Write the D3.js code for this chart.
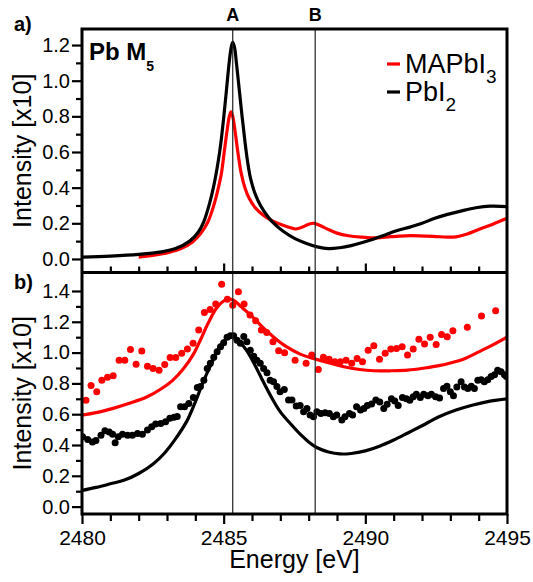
<!DOCTYPE html>
<html>
<head>
<meta charset="utf-8">
<script src="https://d3js.org/d3.v7.min.js"></script>
<style>
	body { margin: 0; background: #fff; }
	text { font-family: "Liberation Sans", Arial, Helvetica, sans-serif; }
</style>
</head>
<body>
<svg id="chart" width="533" height="582"></svg>
<script>
// x axis
var energyRange = [2480, 2495];
var energyMajor = [2480, 2485, 2490, 2495];
var energyMinor = [2481, 2482, 2483, 2484, 2486, 2487, 2488, 2489, 2491, 2492, 2493, 2494];

// y axes
var ticksA = [0.0, 0.2, 0.4, 0.6, 0.8, 1.0, 1.2];
var minorA = [0.1, 0.3, 0.5, 0.7, 0.9, 1.1];
var ticksB = [0.0, 0.2, 0.4, 0.6, 0.8, 1.0, 1.2, 1.4];
var minorB = [0.1, 0.3, 0.5, 0.7, 0.9, 1.1, 1.3];

// peak markers
var markerNames = ["A", "B"];
var markerEnergies = [2485.32, 2488.23];

// panel a) : measured spectra [energy, intensity]
var pbi2A = [
	[2480.0, 0.010], [2481.0, 0.016], [2482.0, 0.026], [2482.8, 0.040], [2483.3, 0.058],
	[2483.8, 0.100], [2484.1, 0.150], [2484.3, 0.210], [2484.5, 0.310], [2484.65, 0.410],
	[2484.8, 0.540], [2484.9, 0.650], [2485.0, 0.790], [2485.1, 0.950], [2485.2, 1.110],
	[2485.27, 1.190], [2485.32, 1.215], [2485.38, 1.190], [2485.45, 1.100], [2485.55, 0.950],
	[2485.65, 0.800], [2485.75, 0.660], [2485.85, 0.540], [2485.95, 0.450], [2486.1, 0.370],
	[2486.3, 0.300], [2486.55, 0.240], [2486.8, 0.195], [2487.1, 0.155], [2487.5, 0.115],
	[2487.9, 0.088], [2488.3, 0.068], [2488.7, 0.058], [2489.1, 0.063], [2489.5, 0.075],
	[2489.9, 0.092], [2490.3, 0.112], [2490.7, 0.135], [2491.1, 0.158], [2491.6, 0.180],
	[2492.0, 0.200], [2492.4, 0.225], [2492.9, 0.250], [2493.4, 0.270], [2493.9, 0.287],
	[2494.4, 0.296], [2495.0, 0.294]
];
var mapbi3A = [
	[2482.0, 0.010], [2482.6, 0.022], [2483.1, 0.038], [2483.5, 0.058], [2483.9, 0.095],
	[2484.2, 0.145], [2484.45, 0.210], [2484.65, 0.300], [2484.8, 0.390], [2484.92, 0.480],
	[2485.02, 0.600], [2485.12, 0.720], [2485.2, 0.800], [2485.26, 0.825], [2485.32, 0.800],
	[2485.4, 0.720], [2485.5, 0.600], [2485.62, 0.480], [2485.75, 0.400], [2485.9, 0.340],
	[2486.1, 0.290], [2486.4, 0.245], [2486.7, 0.215], [2487.0, 0.195], [2487.3, 0.178],
	[2487.55, 0.168], [2487.8, 0.180], [2488.0, 0.195], [2488.2, 0.200], [2488.4, 0.188],
	[2488.7, 0.165], [2489.0, 0.145], [2489.4, 0.130], [2489.9, 0.122], [2490.4, 0.118],
	[2490.9, 0.125], [2491.4, 0.130], [2491.9, 0.130], [2492.4, 0.127], [2492.9, 0.122],
	[2493.2, 0.124], [2493.6, 0.140], [2494.0, 0.165], [2494.5, 0.195], [2495.0, 0.228]
];

// panel b) : calculated spectra (lines)
var mapbi3Calc = [
	[2480.0, 0.594], [2480.5, 0.610], [2481.1, 0.638], [2481.7, 0.672], [2482.3, 0.713],
	[2482.8, 0.765], [2483.2, 0.820], [2483.6, 0.900], [2483.95, 0.995], [2484.2, 1.090],
	[2484.45, 1.190], [2484.75, 1.290], [2485.0, 1.335], [2485.15, 1.347], [2485.35, 1.340],
	[2485.6, 1.300], [2486.0, 1.235], [2486.4, 1.160], [2486.8, 1.095], [2487.2, 1.040],
	[2487.7, 0.990], [2488.2, 0.960], [2488.7, 0.935], [2489.2, 0.910], [2489.8, 0.890],
	[2490.3, 0.882], [2490.9, 0.882], [2491.5, 0.886], [2492.1, 0.900], [2492.6, 0.915],
	[2493.0, 0.932], [2493.5, 0.960], [2493.9, 0.995], [2494.4, 1.040], [2495.0, 1.100]
];
var pbi2Calc = [
	[2480.0, 0.105], [2480.5, 0.125], [2481.0, 0.148], [2481.5, 0.172], [2482.0, 0.215],
	[2482.5, 0.275], [2482.9, 0.345], [2483.3, 0.440], [2483.7, 0.555], [2484.0, 0.680],
	[2484.3, 0.820], [2484.6, 0.940], [2484.85, 1.035], [2485.1, 1.090], [2485.3, 1.100],
	[2485.5, 1.080], [2485.8, 1.016], [2486.1, 0.920], [2486.4, 0.810], [2486.7, 0.705],
	[2487.0, 0.615], [2487.35, 0.540], [2487.7, 0.470], [2488.0, 0.420], [2488.3, 0.382],
	[2488.7, 0.355], [2489.1, 0.342], [2489.5, 0.345], [2490.0, 0.362], [2490.5, 0.392],
	[2491.0, 0.432], [2491.5, 0.478], [2492.0, 0.525], [2492.6, 0.583], [2493.2, 0.627],
	[2493.8, 0.660], [2494.4, 0.685], [2495.0, 0.700]
];

// panel b) : measured spectra (dots)
var mapbi3Dots = [
	[2480.14, 0.69], [2480.32, 0.787], [2480.52, 0.745], [2480.70, 0.82], [2480.90, 0.84],
	[2481.10, 0.85], [2481.31, 0.95], [2481.51, 0.95], [2481.71, 1.02], [2481.91, 0.925],
	[2482.11, 1.01], [2482.31, 0.912], [2482.51, 0.897], [2482.72, 0.886], [2482.92, 0.923],
	[2483.11, 0.968], [2483.31, 0.968], [2483.52, 0.995], [2483.72, 1.023], [2483.92, 1.06],
	[2484.12, 1.146], [2484.32, 1.26], [2484.52, 1.28], [2484.72, 1.315], [2484.93, 1.443],
	[2485.13, 1.347], [2485.32, 1.308], [2485.52, 1.395], [2485.72, 1.315], [2485.93, 1.244],
	[2486.13, 1.207], [2486.33, 1.146], [2486.52, 1.13], [2486.74, 1.07], [2486.94, 1.012],
	[2487.15, 0.999], [2487.52, 0.951], [2487.91, 0.93], [2488.11, 0.984], [2488.34, 0.89],
	[2488.52, 0.969], [2488.72, 0.956], [2488.92, 0.94], [2489.12, 0.94], [2489.32, 0.951],
	[2489.52, 0.93], [2489.71, 0.962], [2489.90, 0.94], [2490.10, 1.016], [2490.30, 1.044],
	[2490.50, 0.956], [2490.70, 0.995], [2490.90, 1.023], [2491.10, 1.027], [2491.30, 1.038],
	[2491.49, 0.984], [2491.69, 1.023], [2491.89, 1.086], [2492.09, 1.055], [2492.29, 1.099],
	[2492.50, 1.053], [2492.69, 1.118], [2492.89, 1.103], [2493.09, 1.142], [2493.60, 1.164],
	[2494.10, 1.237], [2494.60, 1.271]
];
var pbi2Dots = [
	[2480.02, 0.453], [2480.20, 0.436], [2480.37, 0.42], [2480.49, 0.43], [2480.67, 0.464],
	[2480.81, 0.492], [2480.96, 0.485], [2481.08, 0.47], [2481.17, 0.414], [2481.28, 0.453],
	[2481.43, 0.47], [2481.61, 0.464], [2481.78, 0.464], [2481.96, 0.475], [2482.13, 0.47],
	[2482.31, 0.497], [2482.46, 0.518], [2482.60, 0.536], [2482.78, 0.54], [2482.95, 0.551],
	[2483.10, 0.573], [2483.25, 0.58], [2483.36, 0.585], [2483.48, 0.648], [2483.62, 0.648],
	[2483.77, 0.67], [2483.93, 0.709], [2484.07, 0.774], [2484.18, 0.78], [2484.30, 0.821],
	[2484.42, 0.897], [2484.53, 0.93], [2484.65, 0.969], [2484.77, 1.005], [2484.89, 1.038],
	[2485.00, 1.064], [2485.12, 1.099], [2485.24, 1.11], [2485.35, 1.11], [2485.47, 1.08],
	[2485.59, 1.06], [2485.71, 1.105], [2485.82, 1.07], [2485.94, 1.016], [2486.06, 0.977],
	[2486.17, 0.951], [2486.29, 0.93], [2486.41, 0.897], [2486.53, 0.869], [2486.64, 0.821],
	[2486.76, 0.81], [2486.88, 0.78], [2486.99, 0.745], [2487.14, 0.76], [2487.29, 0.692],
	[2487.41, 0.692], [2487.56, 0.653], [2487.70, 0.656], [2487.82, 0.616], [2487.94, 0.637],
	[2488.05, 0.594], [2488.17, 0.584], [2488.29, 0.616], [2488.43, 0.605], [2488.58, 0.609],
	[2488.73, 0.605], [2488.87, 0.584], [2488.99, 0.594], [2489.17, 0.562], [2489.28, 0.584],
	[2489.44, 0.605], [2489.55, 0.594], [2489.69, 0.648], [2489.83, 0.627], [2489.95, 0.637],
	[2490.07, 0.656], [2490.22, 0.667], [2490.37, 0.692], [2490.51, 0.68], [2490.65, 0.637],
	[2490.77, 0.665], [2490.92, 0.70], [2491.04, 0.686], [2491.16, 0.656], [2491.31, 0.708],
	[2491.45, 0.70], [2491.57, 0.69], [2491.69, 0.713], [2491.80, 0.73], [2491.94, 0.708],
	[2492.06, 0.73], [2492.21, 0.72], [2492.33, 0.73], [2492.48, 0.713], [2492.62, 0.705],
	[2492.76, 0.767], [2492.88, 0.782], [2493.00, 0.745], [2493.11, 0.72], [2493.23, 0.776],
	[2493.38, 0.81], [2493.50, 0.776], [2493.62, 0.767], [2493.74, 0.782], [2493.85, 0.767],
	[2493.97, 0.82], [2494.09, 0.824], [2494.20, 0.81], [2494.32, 0.824], [2494.44, 0.845],
	[2494.56, 0.856], [2494.67, 0.886], [2494.79, 0.876], [2494.91, 0.856], [2494.98, 0.845]
];

var red = "#ff0000";
var black = "#000000";

// plot box in pixels
var boxLeft = 82, boxRight = 507, boxTop = 29, boxMid = 272.5, boxBottom = 514;

var svg = d3.select("#chart");
var x = d3.scaleLinear().domain(energyRange).range([boxLeft, boxRight]);
var yA = d3.scaleLinear().domain([-0.076, 1.29]).range([boxMid, boxTop]);
var yB = d3.scaleLinear().domain([-0.048, 1.52]).range([boxBottom, boxMid]);

function init() {
	drawClip("clipA", boxTop, boxMid);
	drawClip("clipB", boxMid, boxBottom);

	drawCurve("clipA", yA, mapbi3A, red);
	drawCurve("clipA", yA, pbi2A, black);

	drawCurve("clipB", yB, mapbi3Calc, red);
	drawCurve("clipB", yB, pbi2Calc, black);
	drawDots("clipB", yB, mapbi3Dots, red);
	drawDots("clipB", yB, pbi2Dots, black);

	drawMarkers();
	drawFrames();
	drawAxes();
	drawLabels();
	drawLegend();
}

function drawClip(id, top, bottom) {
	svg.append("clipPath").attr("id", id)
		.append("rect")
		.attr("x", boxLeft)
		.attr("y", top)
		.attr("width", boxRight - boxLeft)
		.attr("height", bottom - top);
}

function drawCurve(clipId, y, data, color) {
	var line = d3.line()
		.x(function(d) { return x(d[0]); })
		.y(function(d) { return y(d[1]); })
		.curve(d3.curveCatmullRom.alpha(0.5));
	svg.append("path")
		.datum(data)
		.attr("clip-path", "url(#" + clipId + ")")
		.attr("d", line)
		.attr("fill", "none")
		.attr("stroke", color)
		.attr("stroke-width", 3.2)
		.attr("stroke-linejoin", "round");
}

function drawDots(clipId, y, data, color) {
	svg.append("g")
		.attr("clip-path", "url(#" + clipId + ")")
		.selectAll("circle")
		.data(data)
		.enter()
		.append("circle")
		.attr("cx", function(d) { return x(d[0]); })
		.attr("cy", function(d) { return y(d[1]); })
		.attr("r", 3.5)
		.attr("fill", color);
}

function drawMarkers() {
	svg.selectAll("line.marker")
		.data(markerEnergies)
		.enter()
		.append("line")
		.attr("class", "marker")
		.attr("x1", function(d) { return x(d); })
		.attr("x2", function(d) { return x(d); })
		.attr("y1", boxTop)
		.attr("y2", boxBottom)
		.attr("stroke", "#222")
		.attr("stroke-width", 1.2);
	svg.selectAll("text.marker")
		.data(markerNames)
		.enter()
		.append("text")
		.attr("class", "marker")
		.attr("x", function(d, i) { return x(markerEnergies[i]); })
		.attr("y", 21)
		.attr("text-anchor", "middle")
		.attr("font-size", 18)
		.attr("font-weight", "bold")
		.text(function(d) { return d; });
}

function drawFrames() {
	svg.append("rect")
		.attr("x", boxLeft).attr("y", boxTop)
		.attr("width", boxRight - boxLeft).attr("height", boxBottom - boxTop)
		.attr("fill", "none").attr("stroke", black).attr("stroke-width", 3);
	svg.append("line")
		.attr("x1", boxLeft).attr("x2", boxRight)
		.attr("y1", boxMid).attr("y2", boxMid)
		.attr("stroke", black).attr("stroke-width", 3);
}

function styleAxis(g, fontSize) {
	g.select(".domain").remove();
	g.selectAll(".tick line").attr("stroke", black).attr("stroke-width", 2.2);
	g.selectAll(".tick text")
		.attr("fill", black)
		.attr("font-size", fontSize)
		.attr("font-family", "'Liberation Sans', Arial, sans-serif");
}

function drawAxes() {
	var fmt = d3.format(".1f");
	// left axes
	[[yA, ticksA, minorA], [yB, ticksB, minorB]].forEach(function(a) {
		var major = svg.append("g")
			.attr("transform", "translate(" + boxLeft + ",0)")
			.call(d3.axisLeft(a[0]).tickValues(a[1]).tickSize(10).tickPadding(2).tickFormat(fmt));
		styleAxis(major, 20);
		var minor = svg.append("g")
			.attr("transform", "translate(" + boxLeft + ",0)")
			.call(d3.axisLeft(a[0]).tickValues(a[2]).tickSize(6).tickFormat(""));
		styleAxis(minor, 20);
	});

	// bottom axis
	var bottom = svg.append("g")
		.attr("transform", "translate(0," + boxBottom + ")")
		.call(d3.axisBottom(x).tickValues(energyMajor).tickSize(10).tickPadding(6).tickFormat(d3.format("d")));
	styleAxis(bottom, 21);
	var bottomMinor = svg.append("g")
		.attr("transform", "translate(0," + boxBottom + ")")
		.call(d3.axisBottom(x).tickValues(energyMinor).tickSize(7).tickFormat(""));
	styleAxis(bottomMinor, 21);

	// ticks on the divider between the panels
	var midMajor = svg.append("g")
		.attr("transform", "translate(0," + boxMid + ")")
		.call(d3.axisTop(x).tickValues([2485, 2490]).tickSize(9).tickFormat(""));
	styleAxis(midMajor, 21);
	var midMinor = svg.append("g")
		.attr("transform", "translate(0," + boxMid + ")")
		.call(d3.axisTop(x).tickValues(energyMinor).tickSize(6).tickFormat(""));
	styleAxis(midMinor, 21);
}

function drawLabels() {
	svg.append("text").attr("x", 14).attr("y", 31)
		.attr("font-size", 20).attr("font-weight", "bold").text("a)");
	svg.append("text").attr("x", 14).attr("y", 289)
		.attr("font-size", 20).attr("font-weight", "bold").text("b)");

	var pb = svg.append("text").attr("x", 89).attr("y", 60)
		.attr("font-size", 24).attr("font-weight", "bold");
	pb.append("tspan").text("Pb M");
	pb.append("tspan").attr("dy", 11).attr("font-size", 14).text("5");

	[(boxTop + boxMid) / 2, (boxMid + boxBottom) / 2].forEach(function(cy) {
		svg.append("text")
			.attr("transform", "translate(31," + cy + ") rotate(-90)")
			.attr("text-anchor", "middle")
			.attr("font-size", 25)
			.text("Intensity [x10]");
	});

	svg.append("text")
		.attr("x", (boxLeft + boxRight) / 2)
		.attr("y", 568)
		.attr("text-anchor", "middle")
		.attr("font-size", 25)
		.text("Energy [eV]");
}

function drawLegend() {
	var names = [["MAPbI", "3"], ["PbI", "2"]];
	var colors = [red, black];
	for (var ii = 0; ii < names.length; ++ii) {
		var yy = 64 + ii * 28;
		svg.append("line")
			.attr("x1", 387).attr("x2", 400)
			.attr("y1", yy).attr("y2", yy)
			.attr("stroke", colors[ii]).attr("stroke-width", 3.2);
		var t = svg.append("text").attr("x", 405).attr("y", yy + 9).attr("font-size", 27);
		t.append("tspan").text(names[ii][0]);
		t.append("tspan").attr("dy", 10).attr("font-size", 19).text(names[ii][1]);
	}
}

init();
</script>
</body>
</html>
